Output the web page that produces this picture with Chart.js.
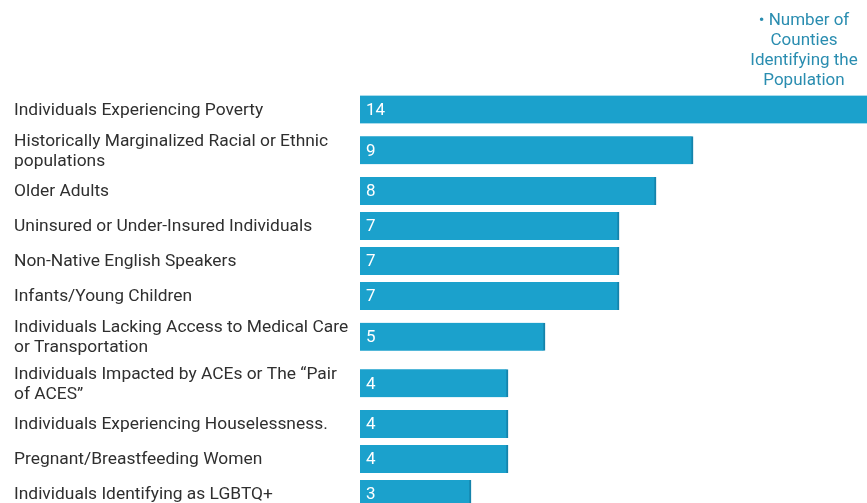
<!DOCTYPE html>
<html>
<head>
<meta charset="utf-8">
<script src="https://cdn.jsdelivr.net/npm/chart.js@4/dist/chart.umd.min.js"></script>
<style>
  html, body { margin: 0; padding: 0; background: #fff; }
  #wrap { width: 867px; height: 503px; }
</style>
</head>
<body>
<div id="wrap"><canvas id="chart"></canvas></div>
<script>
// categories (multi-line labels as arrays)
const categories = [
  'Individuals Experiencing Poverty',
  ['Historically Marginalized Racial or Ethnic', 'populations'],
  'Older Adults',
  'Uninsured or Under-Insured Individuals',
  'Non-Native English Speakers',
  'Infants/Young Children',
  ['Individuals Lacking Access to Medical Care', 'or Transportation'],
  ['Individuals Impacted by ACEs or The \u201cPair', 'of ACES\u201d'],
  'Individuals Experiencing Houselessness.',
  'Pregnant/Breastfeeding Women',
  'Individuals Identifying as LGBTQ+'
];
const counties = [14, 9, 8, 7, 7, 7, 5, 4, 4, 4, 3];
const seriesName = ['\u2022 Number of', 'Counties', 'Identifying the', 'Population'];

const barColor = '#1ba1cc';
const textColor = '#2f2f2f';
const legendColor = '#2a8db0';
const FONT = 'Roboto, "Noto Sans", sans-serif';

// rows with two-line labels get a taller slot, like the original layout
const rowPos = [];
let acc = 0;
categories.forEach(c => {
  const h = Array.isArray(c) ? 46.5 : 35;
  rowPos.push(acc + h / 2);
  acc += h;
});

const points = counties.map((v, i) => ({ x: v, y: rowPos[i] }));

const valueLabels = {
  id: 'valueLabels',
  afterDatasetsDraw(chart) {
    const ctx = chart.ctx;
    const meta = chart.getDatasetMeta(0);
    ctx.save();
    ctx.font = '17px ' + FONT;
    ctx.fillStyle = '#ffffff';
    ctx.textAlign = 'left';
    ctx.textBaseline = 'middle';
    meta.data.forEach((bar, i) => {
      ctx.fillText(String(counties[i]), bar.base + 6, bar.y + 1);
    });
    ctx.restore();
  }
};

const seriesLegend = {
  id: 'seriesLegend',
  afterDraw(chart) {
    const ctx = chart.ctx;
    ctx.save();
    ctx.font = '17px ' + FONT;
    ctx.fillStyle = legendColor;
    ctx.textAlign = 'center';
    ctx.textBaseline = 'middle';
    seriesName.forEach((line, i) => {
      ctx.fillText(line, 804, 21 + i * 20);
    });
    ctx.restore();
  }
};

new Chart(document.getElementById('chart'), {
  type: 'bar',
  data: {
    datasets: [{
      label: seriesName.join(' '),
      data: points,
      backgroundColor: barColor,
      borderColor: '#1583ab',
      borderWidth: { top: 0, right: 2, bottom: 0, left: 0 },
      borderSkipped: false,
      barThickness: 28
    }]
  },
  options: {
    indexAxis: 'y',
    responsive: true,
    maintainAspectRatio: false,
    animation: false,
    layout: { padding: { top: 92, left: 14, right: 0, bottom: 0 } },
    plugins: {
      legend: { display: false },
      tooltip: { enabled: false }
    },
    scales: {
      x: {
        type: 'linear',
        display: false,
        min: 0,
        max: 13.7
      },
      y: {
        type: 'linear',
        reverse: true,
        offset: false,
        min: 0,
        max: 411,
        grid: { display: false },
        border: { display: false },
        afterBuildTicks(scale) {
          scale.ticks = rowPos.map(v => ({ value: v }));
        },
        afterFit(scale) {
          scale.width = 346;
          scale.paddingTop = 0;
          scale.paddingBottom = 0;
        },
        ticks: {
          crossAlign: 'far',
          autoSkip: false,
          labelOffset: 1,
          color: textColor,
          font: { family: FONT, size: 17.4, lineHeight: 1.16 },
          callback(value) {
            const i = rowPos.indexOf(value);
            return i >= 0 ? categories[i] : '';
          }
        }
      }
    }
  },
  plugins: [valueLabels, seriesLegend]
});
</script>
</body>
</html>
